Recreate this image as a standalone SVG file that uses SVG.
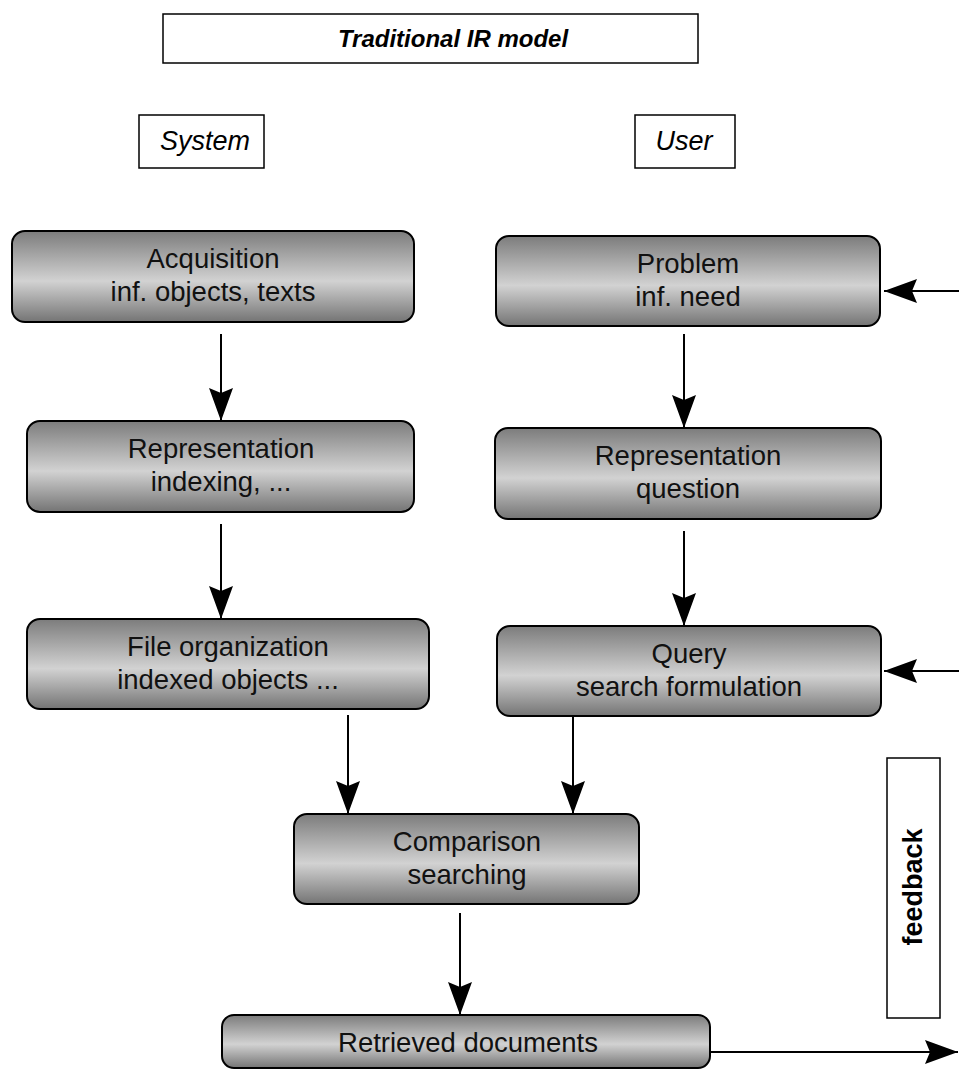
<svg xmlns="http://www.w3.org/2000/svg" width="959" height="1069" viewBox="0 0 959 1069">
<style>
.node{stroke:#000;stroke-width:2;fill:url(#g)}
.lbl{stroke:#000;stroke-width:1.5;fill:#fff}
.t{font-family:"Liberation Sans",Arial,sans-serif;font-size:27.5px;fill:#111;text-anchor:middle}
.hd{font-family:"Liberation Sans",Arial,sans-serif;font-style:italic;fill:#000;text-anchor:middle}
.c line{stroke:#000;stroke-width:2;marker-end:url(#ah)}
</style>
<defs>
<linearGradient id="g" x1="0" y1="0" x2="0" y2="1">
<stop offset="0" stop-color="#7c7c7c"/>
<stop offset="0.55" stop-color="#d2d2d2"/>
<stop offset="1" stop-color="#747474"/>
</linearGradient>
<marker id="ah" markerUnits="userSpaceOnUse" markerWidth="36" markerHeight="24" refX="33" refY="12" orient="auto">
<path d="M0,0 L33,12 L0,24 L5,12 z" fill="#000"/>
</marker>
</defs>
<rect width="959" height="1069" fill="#fff"/>
<g id="title"><rect class="lbl" x="163" y="14" width="535" height="49"/><text class="hd" x="453" y="47" font-size="24" font-weight="bold">Traditional IR model</text></g>
<g id="system"><rect class="lbl" x="139" y="115" width="125" height="53"/><text class="hd" x="205" y="150" font-size="27">System</text></g>
<g id="user"><rect class="lbl" x="635" y="115" width="100" height="53"/><text class="hd" x="684" y="150" font-size="27">User</text></g>
<g id="feedback"><rect class="lbl" x="887" y="758" width="53" height="260"/><text x="922" y="887" transform="rotate(-90 922 887)" font-family="Liberation Sans,Arial,sans-serif" font-weight="bold" font-size="27" text-anchor="middle" fill="#000">feedback</text></g>
<g id="acquisition"><rect class="node" x="12" y="231" width="402" height="91" rx="13"/><text class="t" x="213" y="268">Acquisition</text><text class="t" x="213" y="301">inf. objects, texts</text></g>
<g id="problem"><rect class="node" x="496" y="236" width="384" height="90" rx="13"/><text class="t" x="688" y="273">Problem</text><text class="t" x="688" y="306">inf. need</text></g>
<g id="rep-left"><rect class="node" x="27" y="421" width="387" height="91" rx="13"/><text class="t" x="221" y="458">Representation</text><text class="t" x="221" y="491">indexing, ...</text></g>
<g id="rep-right"><rect class="node" x="495" y="428" width="386" height="91" rx="13"/><text class="t" x="688" y="465">Representation</text><text class="t" x="688" y="498">question</text></g>
<g id="file"><rect class="node" x="27" y="619" width="402" height="90" rx="13"/><text class="t" x="228" y="656">File organization</text><text class="t" x="228" y="689">indexed objects ...</text></g>
<g id="query"><rect class="node" x="497" y="626" width="384" height="90" rx="13"/><text class="t" x="689" y="663">Query</text><text class="t" x="689" y="696">search formulation</text></g>
<g id="comparison"><rect class="node" x="294" y="814" width="345" height="90" rx="13"/><text class="t" x="467" y="851">Comparison</text><text class="t" x="467" y="884">searching</text></g>
<g id="retrieved"><rect class="node" x="222" y="1015" width="488" height="53" rx="12"/><text class="t" x="468" y="1052">Retrieved documents</text></g>
<g id="connectors" class="c">
<line x1="221" y1="334" x2="221" y2="421"/>
<line x1="221" y1="524" x2="221" y2="619"/>
<line x1="684" y1="334" x2="684" y2="428"/>
<line x1="684" y1="531" x2="684" y2="626"/>
<line x1="348" y1="715" x2="348" y2="814"/>
<line x1="573" y1="716" x2="573" y2="814"/>
<line x1="460" y1="913" x2="460" y2="1015"/>
<line x1="959" y1="291" x2="884" y2="291"/>
<line x1="959" y1="671" x2="884" y2="671"/>
<line x1="711" y1="1052" x2="958" y2="1052"/>
</g>
</svg>
